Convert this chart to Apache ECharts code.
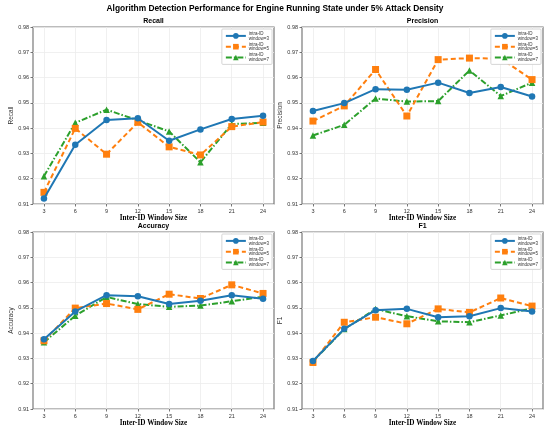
<!DOCTYPE html>
<html>
<head>
<meta charset="utf-8">
<script src="https://cdn.jsdelivr.net/npm/echarts@6/dist/echarts.min.js"></script>
<style>
	html, body { margin: 0; padding: 0; background: #fff; }
	#main { width: 550px; height: 434px; }
</style>
</head>
<body>
<div id="main"></div>
<script>
// inter-ID window sizes (x axis)
var windowSizes = [3, 6, 9, 12, 15, 18, 21, 24];
var seriesNames = ["intra-ID\nwindow=3", "intra-ID\nwindow=5", "intra-ID\nwindow=7"];
var yTicks = [0.91, 0.92, 0.93, 0.94, 0.95, 0.96, 0.97, 0.98];

// Recall
var recallW3 = [0.9122, 0.9334, 0.9432, 0.9439, 0.9350, 0.9395, 0.9436, 0.9449];
var recallW5 = [0.9146, 0.9399, 0.9297, 0.9423, 0.9326, 0.9294, 0.9406, 0.9424];
var recallW7 = [0.9210, 0.9421, 0.9473, 0.9431, 0.9387, 0.9265, 0.9416, 0.9421];

// Precision
var precisionW3 = [0.9468, 0.9499, 0.9554, 0.9552, 0.9580, 0.9539, 0.9563, 0.9525];
var precisionW5 = [0.9428, 0.9488, 0.9632, 0.9448, 0.9671, 0.9677, 0.9675, 0.9592];
var precisionW7 = [0.9371, 0.9413, 0.9517, 0.9505, 0.9507, 0.9628, 0.9527, 0.9580];

// Accuracy
var accuracyW3 = [0.9376, 0.9486, 0.9550, 0.9546, 0.9515, 0.9528, 0.9550, 0.9536];
var accuracyW5 = [0.9370, 0.9499, 0.9517, 0.9494, 0.9554, 0.9537, 0.9591, 0.9557];
var accuracyW7 = [0.9364, 0.9469, 0.9543, 0.9515, 0.9504, 0.9509, 0.9526, 0.9544];

// F1
var f1W3 = [0.9290, 0.9417, 0.9491, 0.9496, 0.9463, 0.9467, 0.9499, 0.9486];
var f1W5 = [0.9284, 0.9443, 0.9463, 0.9437, 0.9496, 0.9482, 0.9539, 0.9507];
var f1W7 = [0.9289, 0.9416, 0.9495, 0.9467, 0.9447, 0.9443, 0.9470, 0.9498];

var panels = [{
	title: "Recall",
	grid: { left: 33, top: 27, width: 241, height: 177 },
	data: [recallW3, recallW5, recallW7]
}, {
	title: "Precision",
	grid: { left: 302, top: 27, width: 241, height: 177 },
	data: [precisionW3, precisionW5, precisionW7]
}, {
	title: "Accuracy",
	grid: { left: 33, top: 232, width: 241, height: 177 },
	data: [accuracyW3, accuracyW5, accuracyW7]
}, {
	title: "F1",
	grid: { left: 302, top: 232, width: 241, height: 177 },
	data: [f1W3, f1W5, f1W7]
}];

var colors = ["#1f77b4", "#ff7f0e", "#2ca02c"];
var lineTypes = ["solid", [5, 3], [6, 2, 1.5, 2]];
var symbols = ["circle", "rect", "triangle"];
var symbolSizes = [6.5, 7, 6.5];

var pair = function(xs, ys) {
	return xs.map(function(x, i) {
		return [x, ys[i]];
	});
};

var option = {
	animation: false,
	backgroundColor: "#fff",
	title: [],
	grid: [],
	xAxis: [],
	yAxis: [],
	legend: [],
	series: []
};

option.title.push({
	text: "Algorithm Detection Performance for Engine Running State under 5% Attack Density",
	left: "center",
	top: 5,
	padding: 0,
	textStyle: { fontFamily: "Liberation Sans", fontSize: 8.4, fontWeight: "bold", color: "#000" }
});

panels.forEach(function(p, k) {
	var g = p.grid;
	option.grid.push({
		left: g.left,
		top: g.top,
		width: g.width,
		height: g.height,
		show: true,
		borderColor: "#7a7a7a",
		borderWidth: 1.2,
		backgroundColor: "#fff"
	});
	option.title.push({
		text: p.title,
		left: g.left + g.width / 2,
		textAlign: "center",
		top: g.top - 9,
		padding: 0,
		textStyle: { fontFamily: "Liberation Sans", fontSize: 7, fontWeight: "bold", color: "#000" }
	});
	option.xAxis.push({
		type: "value",
		gridIndex: k,
		min: 1.95,
		max: 25.05,
		name: "Inter-ID Window Size",
		nameLocation: "middle",
		nameGap: 9,
		nameTextStyle: { fontFamily: "Liberation Serif", fontSize: 7.2, fontWeight: "bold", color: "#000" },
		axisLine: { show: false },
		axisTick: { show: true, length: 2.5, customValues: windowSizes, lineStyle: { color: "#555", width: 0.8 } },
		axisLabel: { customValues: windowSizes, fontSize: 5.5, color: "#333", margin: 4, fontFamily: "Liberation Sans" },
		splitLine: { show: true, lineStyle: { color: "#ececec", width: 0.8 } }
	});
	option.yAxis.push({
		type: "value",
		gridIndex: k,
		min: 0.91,
		max: 0.98,
		interval: 0.01,
		name: p.title,
		nameLocation: "middle",
		nameGap: 17,
		nameTextStyle: { fontFamily: "Liberation Sans", fontSize: 6.5, color: "#333" },
		axisLine: { show: false },
		axisTick: { show: true, length: 2.5, lineStyle: { color: "#555", width: 0.8 } },
		axisLabel: {
			fontSize: 5.5,
			color: "#333",
			margin: 4,
			fontFamily: "Liberation Sans",
			formatter: function(v) {
				return v.toFixed(2);
			}
		},
		splitLine: { show: true, lineStyle: { color: "#ececec", width: 0.8 } }
	});
	option.legend.push({
		orient: "vertical",
		right: 550 - (g.left + g.width) + 2,
		top: g.top + 2,
		data: seriesNames,
		itemWidth: 20,
		itemHeight: 7,
		itemGap: 1,
		padding: [2, 3, 2, 3],
		backgroundColor: "#fff",
		borderColor: "#cccccc",
		borderWidth: 0.8,
		borderRadius: 1,
		selectedMode: false,
		textStyle: { fontSize: 4.5, lineHeight: 4.8, color: "#333", fontFamily: "Liberation Sans", padding: [0, 0, 0, -2] }
	});
	p.data.forEach(function(vals, s) {
		option.series.push({
			name: seriesNames[s],
			type: "line",
			xAxisIndex: k,
			yAxisIndex: k,
			data: pair(windowSizes, vals),
			symbol: symbols[s],
			symbolSize: symbolSizes[s],
			lineStyle: { color: colors[s], width: 2, type: lineTypes[s] },
			itemStyle: { color: colors[s] },
			z: 3 - s
		});
	});
});

var chart = echarts.init(document.getElementById("main"), null, { renderer: "canvas" });
chart.setOption(option);
</script>
</body>
</html>
